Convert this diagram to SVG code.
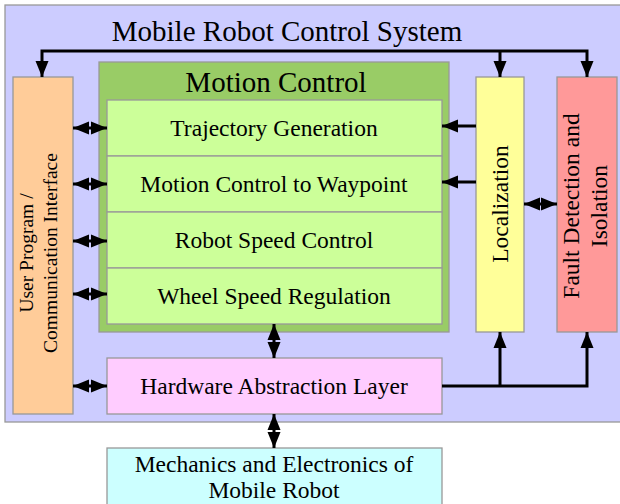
<svg xmlns="http://www.w3.org/2000/svg" width="620" height="504" viewBox="0 0 620 504">
<style>
text{font-family:"Liberation Serif","Times New Roman",serif;fill:#000;text-anchor:middle}
.b{stroke:#999;stroke-width:1.3}
.t{font-size:23.5px}
.c{fill:none;stroke:#000;stroke-width:3}
</style>
<defs>
<marker id="ah" markerUnits="userSpaceOnUse" markerWidth="17" markerHeight="14" refX="16" refY="7" orient="auto-start-reverse"><path d="M0,0.5 L16,7 L0,13.5 z" fill="#000"/></marker>
</defs>
<rect width="620" height="504" fill="#fff"/>
<g id="system"><rect class="b" x="5" y="5" width="625" height="417" fill="#ccccff"/><text x="287" y="41" style="font-size:29px">Mobile Robot Control System</text></g>
<g id="user"><rect class="b" x="13" y="77" width="60" height="337" fill="#ffcc99"/><text transform="rotate(-90 43 253)" style="font-size:19.5px"><tspan x="43" y="243">User Program /</tspan><tspan x="43" y="267">Communication Interface</tspan></text></g>
<g id="motion"><rect class="b" x="99" y="62" width="350" height="270" fill="#99cc66"/><text x="276" y="92" style="font-size:29px">Motion Control</text></g>
<g id="traj"><rect class="b" x="107" y="100" width="335" height="56" fill="#ccff99"/><text class="t" x="274" y="136">Trajectory Generation</text></g>
<g id="waypoint"><rect class="b" x="107" y="156" width="335" height="56" fill="#ccff99"/><text class="t" x="274" y="192">Motion Control to Waypoint</text></g>
<g id="robotspeed"><rect class="b" x="107" y="212" width="335" height="56" fill="#ccff99"/><text class="t" x="274" y="248">Robot Speed Control</text></g>
<g id="wheelspeed"><rect class="b" x="107" y="268" width="335" height="56" fill="#ccff99"/><text class="t" x="274" y="304">Wheel Speed Regulation</text></g>
<g id="localization"><rect class="b" x="476" y="77" width="48" height="255" fill="#ffff99"/><text class="t" transform="rotate(-90 500 204)" x="500" y="212">Localization</text></g>
<g id="fault"><rect class="b" x="557" y="77" width="60" height="255" fill="#ff9999"/><text class="t" transform="rotate(-90 587 206)"><tspan x="587" y="198">Fault Detection and</tspan><tspan x="587" y="226">Isolation</tspan></text></g>
<g id="hal"><rect class="b" x="107" y="358" width="335" height="56" fill="#ffccff"/><text class="t" x="274" y="394">Hardware Abstraction Layer</text></g>
<g id="mech"><rect class="b" x="107" y="448" width="335" height="60" fill="#ccffff"/><text class="t"><tspan x="274" y="472">Mechanics and Electronics of</tspan><tspan x="274" y="498">Mobile Robot</tspan></text></g>
<g id="connectors">
<path class="c" d="M42,77 V51 H587 V77" marker-start="url(#ah)" marker-end="url(#ah)"/>
<path class="c" d="M500,51 V77" marker-end="url(#ah)"/>
<path class="c" d="M73,128 H107" marker-start="url(#ah)" marker-end="url(#ah)"/>
<path class="c" d="M73,184 H107" marker-start="url(#ah)" marker-end="url(#ah)"/>
<path class="c" d="M73,241 H107" marker-start="url(#ah)" marker-end="url(#ah)"/>
<path class="c" d="M73,294 H107" marker-start="url(#ah)" marker-end="url(#ah)"/>
<path class="c" d="M73,386 H107" marker-start="url(#ah)" marker-end="url(#ah)"/>
<path class="c" d="M274,324 V358" marker-start="url(#ah)" marker-end="url(#ah)"/>
<path class="c" d="M274,414 V448" marker-start="url(#ah)" marker-end="url(#ah)"/>
<path class="c" d="M476,126 H442" marker-end="url(#ah)"/>
<path class="c" d="M476,182 H442" marker-end="url(#ah)"/>
<path class="c" d="M524,204 H557" marker-start="url(#ah)" marker-end="url(#ah)"/>
<path class="c" d="M442,386 H587 V332" marker-end="url(#ah)"/>
<path class="c" d="M500,386 V332" marker-end="url(#ah)"/>
</g>
</svg>
